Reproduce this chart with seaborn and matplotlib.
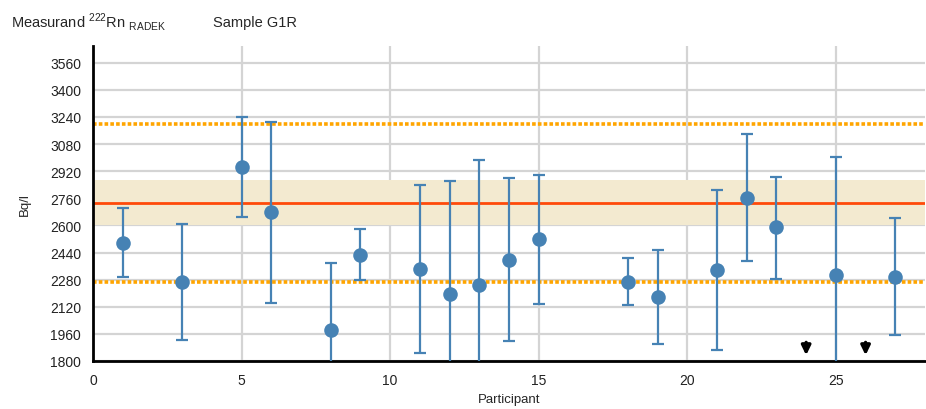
import matplotlib
matplotlib.use("Agg")
import matplotlib.pyplot as plt
from matplotlib.ticker import FixedLocator
import seaborn as sns
import numpy as np
import pandas as pd

# Participant results (Bq/l) with lower / upper uncertainty limits
participants = [1, 3, 5, 6, 8, 9, 11, 12, 13, 14, 15, 18, 19, 21, 22, 23, 25, 27]
values = [2496, 2269, 2943, 2678, 1983, 2428, 2341, 2198, 2249, 2398, 2518,
          2266, 2180, 2337, 2764, 2589, 2308, 2296]
upper = [2701, 2607, 3242, 3213, 2377, 2579, 2837, 2861, 2989, 2880, 2896,
         2406, 2455, 2809, 3142, 2888, 3004, 2644]
lower = [2298, 1924, 2652, 2140, 1589, 2276, 1850, 1535, 1509, 1918, 2139,
         2131, 1900, 1865, 2390, 2282, 1612, 1952]

# Participants whose result lies below the displayed range
below_range = [24, 26]

# Reference value, its uncertainty band and the acceptance limits
assigned_value = 2731
band_low, band_high = 2602, 2866
limit_low, limit_high = 2264, 3197

# Axis ticks
y_ticks = [1800, 1960, 2120, 2280, 2440, 2600, 2760, 2920, 3080, 3240, 3400, 3560]
x_ticks = [0, 5, 10, 15, 20, 25]

sns.set_theme(style="white")
plt.rcParams["font.family"] = ["Liberation Sans", "DejaVu Sans"]
plt.rcParams["mathtext.fontset"] = "custom"
plt.rcParams["mathtext.rm"] = "Liberation Sans"

df = pd.DataFrame({"Participant": participants, "Bq/l": values,
                   "lo": lower, "hi": upper})

fig = plt.figure(figsize=(9.26, 4.10), dpi=100)
ax = fig.add_axes([93 / 926, 1 - 362 / 410, 832 / 926, 315 / 410])

ax.set_xlim(0, 28)
ax.set_ylim(1800, 3659)

grid_col = "#d4d4d4"
ax.xaxis.set_major_locator(FixedLocator(x_ticks))
ax.xaxis.set_minor_locator(FixedLocator(np.arange(0, 29, 1)))
ax.yaxis.set_major_locator(FixedLocator(y_ticks))
ax.yaxis.set_minor_locator(FixedLocator(np.arange(1800, 3660, 32)))
ax.grid(True, which="major", color=grid_col, linewidth=1.6, zorder=0)
ax.set_axisbelow(True)

ax.axhspan(band_low, band_high, color="#f3ead0", zorder=1, linewidth=0)
ax.axhline(assigned_value, color="#ff4a0a", linewidth=2, zorder=2)
for lim in (limit_low, limit_high):
    ax.axhline(lim, color="#ffa500", linewidth=2.6, linestyle=(0, (1, 0.6)),
               zorder=2)

blue = "#4682b4"
ax.errorbar(df["Participant"], df["Bq/l"],
            yerr=[df["Bq/l"] - df["lo"], df["hi"] - df["Bq/l"]],
            fmt="none", ecolor=blue, elinewidth=1.6, capsize=4.5,
            capthick=1.6, zorder=3, clip_on=True)
sns.scatterplot(data=df, x="Participant", y="Bq/l", ax=ax, color=blue,
                s=110, edgecolor=blue, linewidth=0, zorder=4, legend=False)

# Down arrows mark results below the plotted range
for xb in below_range:
    ax.annotate("", xy=(xb, 1834), xytext=(xb, 1910),
                arrowprops=dict(arrowstyle="-|>,head_length=0.55,head_width=0.27",
                                color="black", lw=2.4, mutation_scale=10,
                                shrinkA=0, shrinkB=0), zorder=5)

for side in ("top", "right"):
    ax.spines[side].set_visible(False)
for side in ("left", "bottom"):
    ax.spines[side].set_color("black")
    ax.spines[side].set_linewidth(2)

ax.tick_params(axis="both", which="both", color=grid_col, direction="out",
               labelsize=10, labelcolor="#222222")
ax.tick_params(axis="both", which="major", length=5, width=1.2)
ax.tick_params(axis="both", which="minor", length=5, width=1.2)
ax.tick_params(axis="x", pad=4)

ax.set_xlabel("Participant", fontsize=9.5, labelpad=4)
ax.set_ylabel("Bq/l", fontsize=9.5, labelpad=14)

fig.text(11 / 926, 1 - 27 / 410,
         r"Measurand $^{\mathregular{222}}$Rn $_{\mathregular{RADEK}}$",
         fontsize=10.5, va="baseline", ha="left")
fig.text(213 / 926, 1 - 27 / 410, "Sample G1R", fontsize=10.5,
         va="baseline", ha="left")

fig.savefig("out.png", dpi=100)
